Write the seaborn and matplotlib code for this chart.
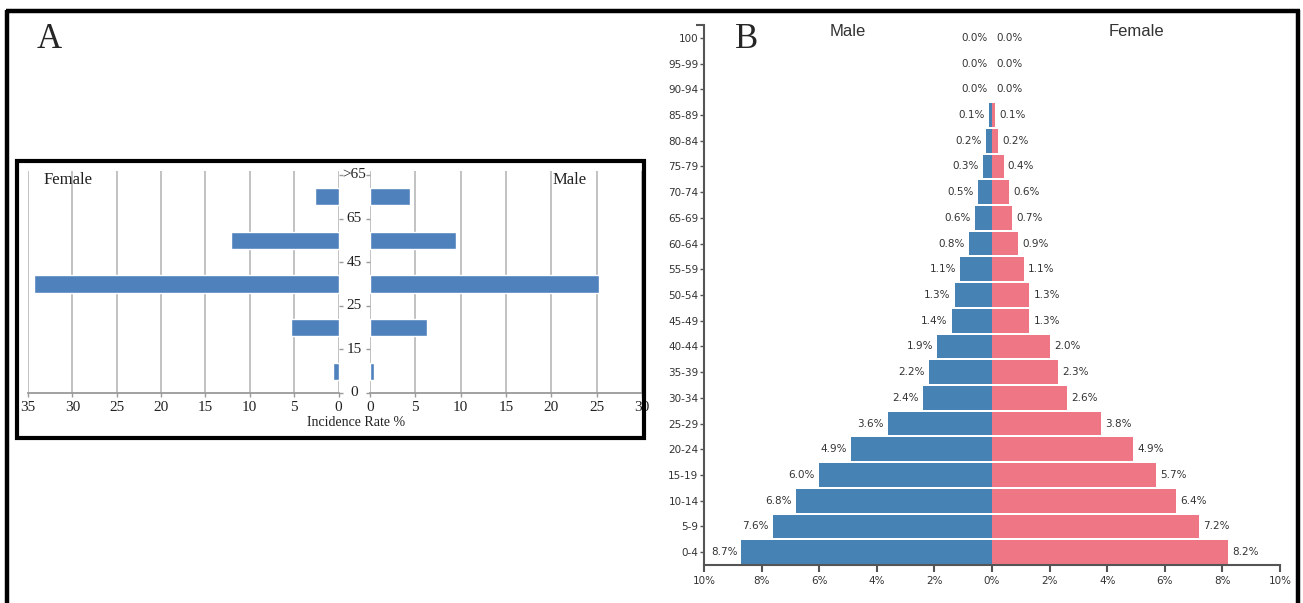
import matplotlib.pyplot as plt
import matplotlib.patches as mpatches
import matplotlib.transforms as mtransforms
import pandas as pd
import seaborn as sns


# panel A: incidence rate by age group
a_pos = [0.5, 1.5, 2.5, 3.5, 4.5]
a_tick_labels = ["0", "15", "25", "45", "65", ">65"]
a_female = [0.6, 5.4, 34.3, 12.1, 2.6]
a_male = [0.4, 6.3, 25.3, 9.5, 4.4]

# panel B: population pyramid, listed top to bottom
b_ages = ["100", "95-99", "90-94", "85-89", "80-84", "75-79", "70-74",
          "65-69", "60-64", "55-59", "50-54", "45-49", "40-44", "35-39",
          "30-34", "25-29", "20-24", "15-19", "10-14", "5-9", "0-4"]
b_male = [0.0, 0.0, 0.0, 0.1, 0.2, 0.3, 0.5, 0.6, 0.8, 1.1, 1.3, 1.4,
          1.9, 2.2, 2.4, 3.6, 4.9, 6.0, 6.8, 7.6, 8.7]
b_female = [0.0, 0.0, 0.0, 0.1, 0.2, 0.4, 0.6, 0.7, 0.9, 1.1, 1.3, 1.3,
            2.0, 2.3, 2.6, 3.8, 4.9, 5.7, 6.4, 7.2, 8.2]

W, H = 1303, 603


def fx(x):
    return x / W


def fy(y):
    return 1 - y / H


sns.set_theme(style="white")
plt.rcParams["font.family"] = ["Liberation Serif", "DejaVu Serif"]

fig = plt.figure(figsize=(W / 100, H / 100), dpi=100)
fig.patch.set_facecolor("white")

# ---------------- panel A ----------------
grid_col = "#bdbdbd"
bar_a = "#4f81bd"
a_top = 5 + (175 - 171) / 43.6

ax_f = fig.add_axes([fx(28), fy(393), (338.5 - 28) / W, (393 - 171) / H])
ax_m = fig.add_axes([fx(370), fy(393), (642 - 370) / W, (393 - 171) / H])

sns.barplot(x=a_female, y=a_pos, orient="h", native_scale=True,
            color=bar_a, width=0.39, saturation=1, ax=ax_f)
sns.barplot(x=a_male, y=a_pos, orient="h", native_scale=True,
            color=bar_a, width=0.39, saturation=1, ax=ax_m)

for ax, lim, side in [(ax_f, (35, 0), "right"), (ax_m, (0, 30), "left")]:
    ax.set_xlim(*lim)
    ax.set_ylim(0, a_top)
    ax.set_xticks(range(0, 31 if lim[1] == 30 else 36, 5))
    ax.set_yticks(range(6))
    ax.set_yticklabels([])
    ax.set_xlabel("")
    ax.set_ylabel("")
    ax.set_facecolor("none")
    ax.grid(axis="x", color=grid_col, linewidth=1.3)
    ax.grid(axis="y", visible=False)
    ax.set_axisbelow(True)
    for s in ["top", "left", "right"]:
        ax.spines[s].set_visible(False)
    ax.spines["bottom"].set_color("#9a9a9a")
    ax.spines["bottom"].set_linewidth(1.3)
    ax.tick_params(axis="x", bottom=True, length=3, width=1, color="#9a9a9a",
                   pad=3, labelsize=11, labelcolor="#222222")
    ax.tick_params(axis="y", left=(side == "left"), right=(side == "right"),
                   length=3, width=1, color="#9a9a9a")

# category boundaries between the two halves
blend = mtransforms.blended_transform_factory(fig.transFigure, ax_f.transData)
for i, lab in enumerate(a_tick_labels):
    ax_f.text(fx(354), i, lab, transform=blend, ha="center", va="center",
              fontsize=11, color="#222222", clip_on=False)

fig.text(fx(68), fy(180), "Female", ha="center", va="center", fontsize=12,
         color="#222222")
fig.text(fx(570), fy(180), "Male", ha="center", va="center", fontsize=12,
         color="#222222")
fig.text(fx(356), fy(423), "Incidence Rate %", ha="center", va="center",
         fontsize=10, color="#222222")
fig.text(fx(49), fy(39), "A", ha="center", va="center", fontsize=25)

fig.patches.append(mpatches.Rectangle(
    (fx(16.5), fy(438)), (644 - 16.5) / W, (438 - 161.5) / H,
    transform=fig.transFigure, fill=False, edgecolor="black", linewidth=3))

# ---------------- panel B ----------------
df = pd.DataFrame({
    "age": b_ages * 2,
    "sex": ["Male"] * len(b_ages) + ["Female"] * len(b_ages),
    "value": [-v for v in b_male] + b_female,
})

ax_b = fig.add_axes([fx(704), fy(565), (1280 - 704) / W, (565 - 25) / H])
sns.barplot(data=df, x="value", y="age", hue="sex", order=b_ages,
            hue_order=["Male", "Female"],
            palette={"Male": "#4682b4", "Female": "#ef7785"},
            dodge=False, width=0.92, saturation=1, linewidth=0,
            legend=False, ax=ax_b)
ax_b.set_xlim(-10, 10)
ax_b.set_ylim(len(b_ages) - 0.5, -0.5)
ax_b.set_xlabel("")
ax_b.set_ylabel("")
ticks = list(range(-10, 11, 2))
ax_b.set_xticks(ticks)
ax_b.set_xticklabels([f"{abs(t)}%" for t in ticks])
for s in ["top", "right"]:
    ax_b.spines[s].set_visible(False)
for s in ["left", "bottom"]:
    ax_b.spines[s].set_color("#555555")
    ax_b.spines[s].set_linewidth(1.5)
small = dict(family=["DejaVu Sans"], size=7.5)
ax_b.tick_params(axis="x", bottom=True, length=5, width=1.5, color="#555555",
                 pad=3, labelcolor="#333333")
ax_b.tick_params(axis="y", left=True, length=3, width=1, color="#555555",
                 pad=1, labelcolor="#333333")
ax_b.set_yticks([-0.5], minor=True)
ax_b.tick_params(axis="y", which="minor", left=True, length=6, width=1.5,
                 color="#555555")
for lab in ax_b.get_xticklabels() + ax_b.get_yticklabels():
    lab.set_fontfamily(small["family"])
    lab.set_fontsize(small["size"])

for i in range(len(b_ages)):
    ax_b.annotate(f"{b_male[i]:.1f}%", xy=(-b_male[i], i), xytext=(-3, 0),
                  textcoords="offset points", ha="right", va="center",
                  color="#333333", **small)
    ax_b.annotate(f"{b_female[i]:.1f}%", xy=(b_female[i], i), xytext=(3, 0),
                  textcoords="offset points", ha="left", va="center",
                  color="#333333", **small)

fig.text(fx(848), fy(32), "Male", ha="center", va="center", fontsize=12,
         family=["Liberation Sans"], color="#333333")
fig.text(fx(1136), fy(32), "Female", ha="center", va="center", fontsize=12,
         family=["Liberation Sans"], color="#333333")
fig.text(fx(747), fy(39), "B", ha="center", va="center", fontsize=25)

# outer frame (open at the bottom)
frame = dict(transform=fig.transFigure, color="black", linewidth=3.2,
             solid_capstyle="butt")
fig.lines.append(plt.Line2D([fx(7), fx(7)], [fy(9.5), 0], **frame))
fig.lines.append(plt.Line2D([fx(1298), fx(1298)], [fy(9.5), 0], **frame))
fig.lines.append(plt.Line2D([fx(5.5), fx(1299.5)], [fy(11), fy(11)], **frame))

fig.savefig("out.png", dpi=100)
